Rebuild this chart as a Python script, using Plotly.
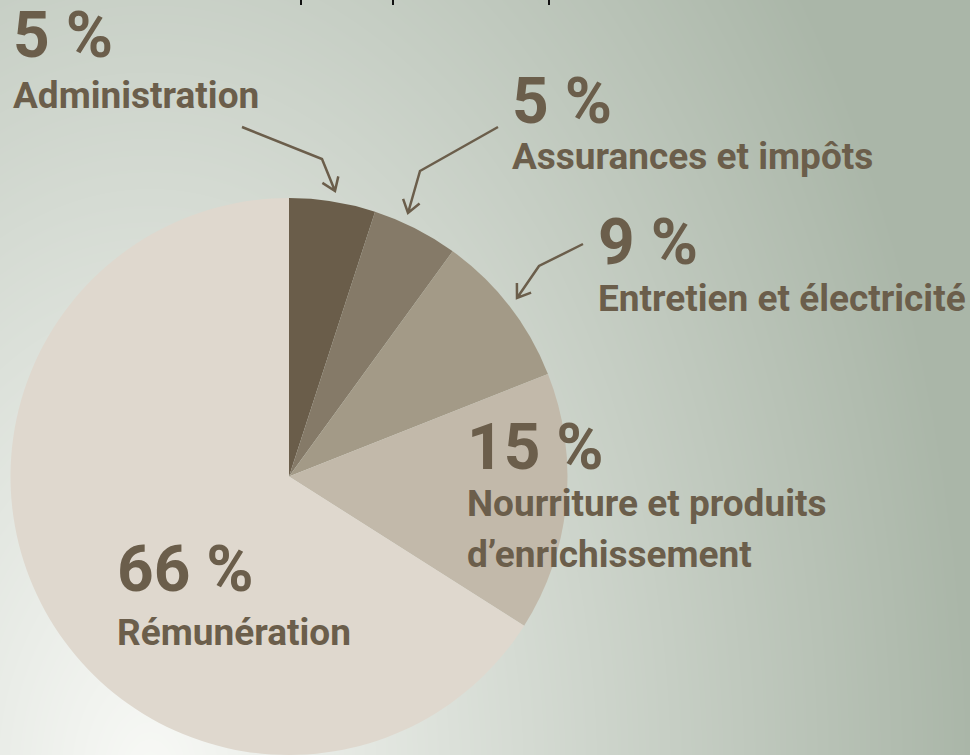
import math

import numpy as np
import plotly.graph_objects as go

# ── data ────────────────────────────────────────────────────────────────────
categories = [
    "Administration",
    "Assurances et impôts",
    "Entretien et électricité",
    "Nourriture et produits d’enrichissement",
    "Rémunération",
]
shares = [5, 5, 9, 15, 66]
label_lines = [
    ["Administration"],
    ["Assurances et impôts"],
    ["Entretien et électricité"],
    ["Nourriture et produits", "d’enrichissement"],
    ["Rémunération"],
]

# ── style ───────────────────────────────────────────────────────────────────
W, H = 970, 755
TEXT = "#6b5e4b"
FONT = "Roboto, Liberation Sans, sans-serif"
SLICE_COLORS = ["#6a5d4a", "#857a68", "#a39a87", "#c2b9aa", "#dfd8ce"]
PIE_CX, PIE_CY, PIE_R = 289, 477, 279

# label anchors (pixel coords: left x, centre of percent line, centre of first label line)
LABEL_POS = [
    (11, 35, 95),
    (510, 101, 156),
    (596, 242, 298),
    (465, 447, 503),
    (115, 569, 632),
]
LINE_GAP = 51

# leader arrows: start -> bend -> tip
ARROWS = [
    [(242, 127), (322, 159), (335, 191)],
    [(498, 127), (420, 171), (408, 213)],
    [(583, 244), (539, 266), (517, 298)],
]

fig = go.Figure()

# soft background gradient (decoration only)
gx = np.linspace(0, W, 98)
gy = np.linspace(0, H, 77)
XX, YY = np.meshgrid(gx, gy)
glow = np.clip(np.sqrt(((XX - 150) / 820) ** 2 + ((YY - 780) / 1300) ** 2), 0, 1)
fig.add_trace(go.Heatmap(
    x=gx, y=gy, z=glow, zmin=0, zmax=1, zsmooth="best",
    colorscale=[[0, "#f8f9f6"], [1, "#aab6a8"]],
    showscale=False, hoverinfo="skip",
))

fig.add_trace(go.Pie(
    labels=categories,
    values=shares,
    sort=False,
    direction="clockwise",
    rotation=0,
    marker=dict(colors=SLICE_COLORS, line=dict(width=0)),
    textinfo="none",
    hoverinfo="label+percent",
    showlegend=False,
    domain=dict(
        x=[(PIE_CX - PIE_R) / W, (PIE_CX + PIE_R) / W],
        y=[max(0, (H - PIE_CY - PIE_R) / H), (H - PIE_CY + PIE_R) / H],
    ),
))

annotations = []
for val, lines, (lx, py, ly) in zip(shares, label_lines, LABEL_POS):
    annotations.append(dict(
        x=lx, y=py, xref="x", yref="y", xanchor="left", yanchor="middle",
        text=f"<b>{val} %</b>", showarrow=False,
        font=dict(family=FONT, size=64, color=TEXT),
    ))
    for i, line in enumerate(lines):
        annotations.append(dict(
            x=lx, y=ly + i * LINE_GAP, xref="x", yref="y",
            xanchor="left", yanchor="middle",
            text=f"<b>{line}</b>", showarrow=False,
            font=dict(family=FONT, size=37, color=TEXT),
        ))


def arrow_path(pts, head=15, spread=35):
    (x0, y0), (x1, y1), (x2, y2) = pts
    ang = math.atan2(y1 - y2, x1 - x2)
    barbs = []
    for s in (-spread, spread):
        a = ang + math.radians(s)
        barbs.append((x2 + head * math.cos(a), y2 + head * math.sin(a)))
    return (f"M{x0},{y0} L{x1},{y1} L{x2},{y2} "
            f"M{barbs[0][0]:.1f},{barbs[0][1]:.1f} L{x2},{y2} "
            f"L{barbs[1][0]:.1f},{barbs[1][1]:.1f}")


shapes = [
    dict(type="path", path=arrow_path(p), xref="x", yref="y",
         line=dict(color=TEXT, width=2.5), layer="above")
    for p in ARROWS
]
# cropped tick stubs along the top edge
for tx in (301, 393, 549):
    shapes.append(dict(type="line", x0=tx, x1=tx, y0=0, y1=5, xref="x", yref="y",
                       line=dict(color="#111111", width=2), layer="above"))

fig.update_layout(
    width=W, height=H,
    margin=dict(l=0, r=0, t=0, b=0),
    paper_bgcolor="#cdd6cc",
    plot_bgcolor="#cdd6cc",
    xaxis=dict(range=[0, W], visible=False, fixedrange=True),
    yaxis=dict(range=[H, 0], visible=False, fixedrange=True),
    annotations=annotations,
    shapes=shapes,
    font=dict(family=FONT, color=TEXT),
)

fig.write_html(
    "out.html",
    config={"displayModeBar": False},
    post_script="document.body.style.margin='0';",
)
